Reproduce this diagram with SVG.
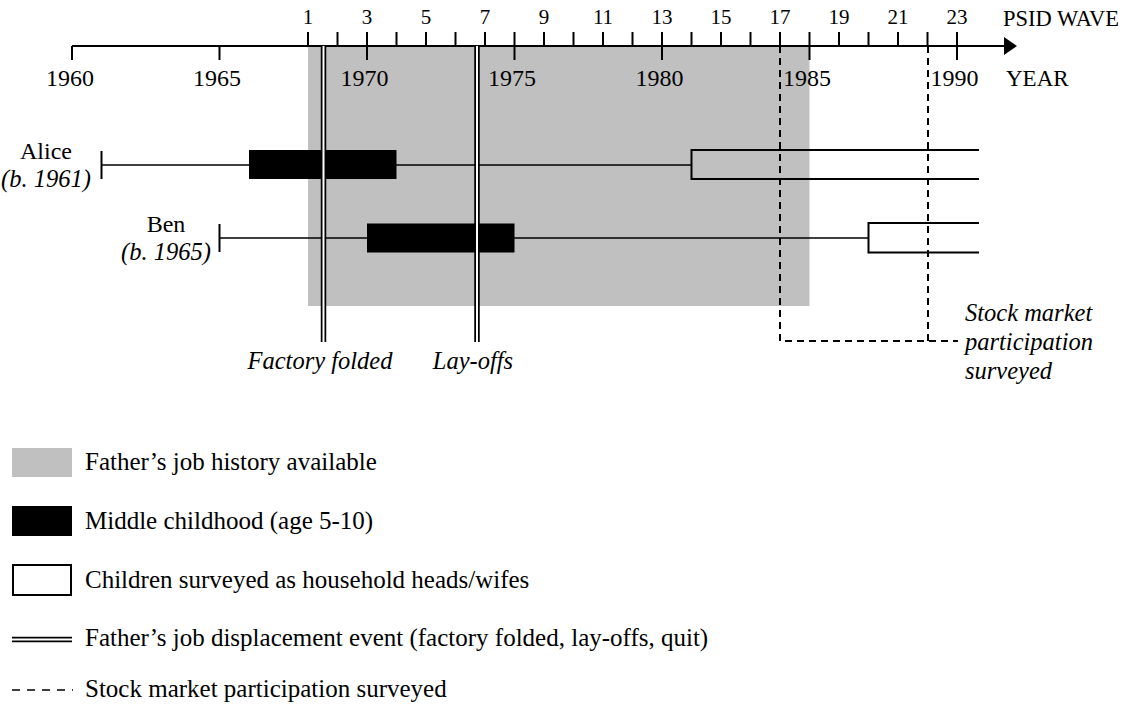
<svg xmlns="http://www.w3.org/2000/svg" width="1135" height="719" viewBox="0 0 1135 719">
<style>
  text { font-family: "Liberation Serif", "Times New Roman", serif; fill: #000; }
  .yr { font-size: 24px; text-anchor: middle; }
  .wv { font-size: 21px; text-anchor: middle; }
  .lbl { font-size: 24px; }
  .leg { font-size: 25px; }
  .it { font-size: 24.5px; font-style: italic; }
  .ln { stroke: #000; stroke-width: 2; fill: none; }
  .thin { stroke: #000; stroke-width: 1.5; fill: none; }
  .dash { stroke: #000; stroke-width: 2; fill: none; stroke-dasharray: 7 5; }
  .dblo { stroke: #000; stroke-width: 5.5; fill: none; }
  .dbli { stroke: #fff; stroke-width: 2; fill: none; }
  .gray { fill: #c0c0c0; }
</style>
<rect width="1135" height="719" fill="#fff"/>

<g id="history-shade">
  <rect class="gray" x="308" y="46" width="501.5" height="260"/>
</g>

<g id="axis">
  <line class="ln" x1="72" y1="46" x2="1006" y2="46"/>
  <polygon points="1004,37 1017,46 1004,55" fill="#000"/>
  <path class="ln" d="M72,46V60 M219.5,46V60 M367,46V60 M514.5,46V60 M662,46V60 M809.5,46V60 M957,46V60"/>
  <path class="ln" d="M308,32V46 M337.5,32V46 M367,32V46 M396.5,32V46 M426,32V46 M455.5,32V46 M485,32V46 M514.5,32V46 M544,32V46 M573.5,32V46 M603,32V46 M632.5,32V46 M662,32V46 M691.5,32V46 M721,32V46 M750.5,32V46 M780,32V46 M809.5,32V46 M839,32V46 M868.5,32V46 M898,32V46 M927.5,32V46 M957,32V46"/>
  <g class="wv">
    <text x="308" y="24">1</text>
    <text x="367" y="24">3</text>
    <text x="426" y="24">5</text>
    <text x="485" y="24">7</text>
    <text x="544" y="24">9</text>
    <text x="603" y="24">11</text>
    <text x="662" y="24">13</text>
    <text x="721" y="24">15</text>
    <text x="780" y="24">17</text>
    <text x="839" y="24">19</text>
    <text x="898" y="24">21</text>
    <text x="957" y="24">23</text>
  </g>
  <text x="1003" y="26" font-size="22.5px">PSID WAVE</text>
  <g class="yr">
    <text x="70" y="86">1960</text>
    <text x="217" y="86">1965</text>
    <text x="364.5" y="86">1970</text>
    <text x="512" y="86">1975</text>
    <text x="659.5" y="86">1980</text>
    <text x="807" y="86">1985</text>
    <text x="954.5" y="86">1990</text>
  </g>
  <text x="1006" y="86" font-size="23px">YEAR</text>
</g>

<g id="alice">
  <text class="lbl" x="46" y="159" text-anchor="middle">Alice</text>
  <text class="it" x="46" y="187" text-anchor="middle">(b. 1961)</text>
  <line class="thin" x1="101.5" y1="165" x2="691.5" y2="165"/>
  <line class="ln" x1="101.5" y1="151" x2="101.5" y2="179"/>
  <rect x="249" y="150" width="147.5" height="29" fill="#000"/>
  <path class="ln" d="M979,150H691.5V179H979" fill="#fff"/>
</g>

<g id="ben">
  <text class="lbl" x="166" y="232" text-anchor="middle">Ben</text>
  <text class="it" x="166" y="260" text-anchor="middle">(b. 1965)</text>
  <line class="thin" x1="219.5" y1="238" x2="868.5" y2="238"/>
  <line class="ln" x1="219.5" y1="224" x2="219.5" y2="252"/>
  <rect x="367" y="223.5" width="147.5" height="29" fill="#000"/>
  <path class="ln" d="M979,223H868.5V252.5H979" fill="#fff"/>
</g>

<g id="events">
  <line class="dblo" x1="323.5" y1="46" x2="323.5" y2="342"/>
  <line class="dbli" x1="323.5" y1="46" x2="323.5" y2="342"/>
  <line class="dblo" x1="477" y1="46" x2="477" y2="342"/>
  <line class="dbli" x1="477" y1="46" x2="477" y2="342"/>
  <text class="it" x="320" y="369" text-anchor="middle">Factory folded</text>
  <text class="it" x="473" y="369" text-anchor="middle">Lay-offs</text>
</g>

<g id="stock-survey">
  <path class="dash" d="M780,46V341H958"/>
  <line class="dash" x1="928" y1="46" x2="928" y2="341"/>
  <text class="it" x="965" y="321">Stock market</text>
  <text class="it" x="965" y="350">participation</text>
  <text class="it" x="965" y="379">surveyed</text>
</g>

<g id="legend">
  <rect class="gray" x="12" y="448" width="60" height="29"/>
  <text class="leg" x="85" y="470">Father’s job history available</text>
  <rect x="12" y="506" width="60" height="30" fill="#000"/>
  <text class="leg" x="85" y="529">Middle childhood (age 5-10)</text>
  <rect x="13" y="565" width="58" height="30" fill="#fff" stroke="#000" stroke-width="2"/>
  <text class="leg" x="85" y="588">Children surveyed as household heads/wifes</text>
  <line class="dblo" x1="12" y1="639.5" x2="72" y2="639.5"/>
  <line class="dbli" x1="12" y1="639.5" x2="72" y2="639.5"/>
  <text class="leg" x="85" y="646">Father’s job displacement event (factory folded, lay-offs, quit)</text>
  <line x1="12" y1="690" x2="73" y2="690" stroke="#000" stroke-width="1.5" stroke-dasharray="8 7"/>
  <text class="leg" x="85" y="697">Stock market participation surveyed</text>
</g>
</svg>
